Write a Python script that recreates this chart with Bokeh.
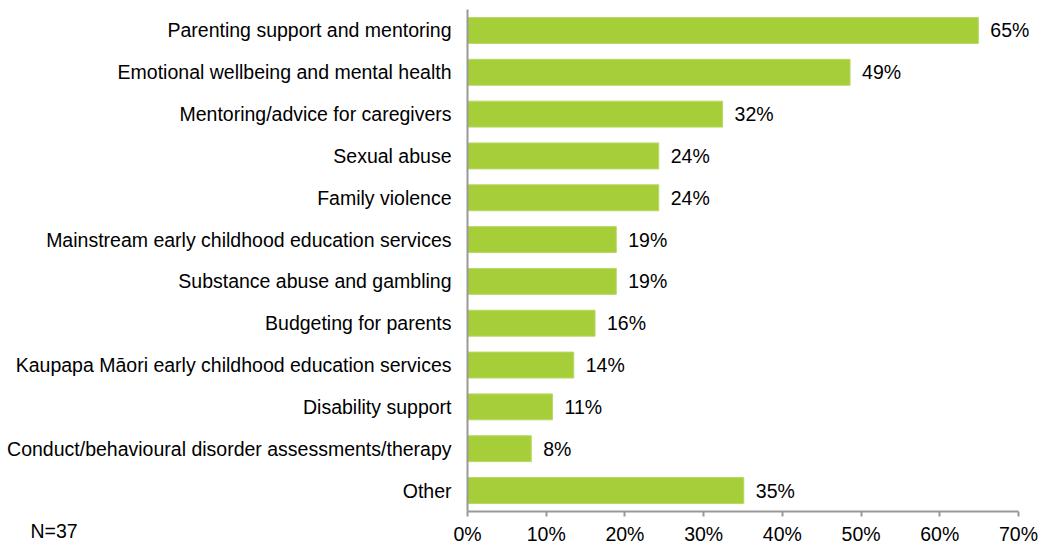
from bokeh.plotting import figure
from bokeh.models import ColumnDataSource, Range1d, NumeralTickFormatter, FixedTicker, Label, LabelSet
from bokeh.core.properties import value
from bokeh.embed import file_html
from bokeh.resources import INLINE

categories = [
    "Parenting support and mentoring",
    "Emotional wellbeing and mental health",
    "Mentoring/advice for caregivers",
    "Sexual abuse",
    "Family violence",
    "Mainstream early childhood education services",
    "Substance abuse and gambling",
    "Budgeting for parents",
    "Kaupapa Māori early childhood education services",
    "Disability support",
    "Conduct/behavioural disorder assessments/therapy",
    "Other",
]
values = [64.9, 48.6, 32.4, 24.3, 24.3, 18.9, 18.9, 16.2, 13.5, 10.8, 8.1, 35.1]
value_labels = ["65%", "49%", "32%", "24%", "24%", "19%", "19%", "16%", "14%", "11%", "8%", "35%"]
ticks = [0, 0.1, 0.2, 0.3, 0.4, 0.5, 0.6, 0.7]
note = "N=37"

FONT = "Liberation Sans"
FS = "19.5px"

n = len(categories)
pos = [n - 1 - i for i in range(n)]  # top category first

src = ColumnDataSource(dict(y=pos, val=[v / 100 for v in values], lab=value_labels))

p = figure(
    width=1042, height=544,
    x_range=Range1d(-0.5933, 0.7305),
    y_range=Range1d(-1.291, n - 1 + 0.717),
    output_backend="svg", toolbar_location=None,
    min_border_left=0, min_border_right=0, min_border_top=0, min_border_bottom=0,
)
p.hbar(y="y", right="val", height=0.62, source=src, fill_color="#a6ce39", line_color="#b8d866", line_width=1)

p.add_layout(LabelSet(x="val", y="y", text="lab", source=src, x_offset=12, text_baseline="middle",
                      text_font=value(FONT), text_font_size=value(FS), text_color="#000000"))

p.grid.visible = False
p.outline_line_color = None
p.background_fill_color = "white"
p.border_fill_color = "white"

xa = p.xaxis[0]
xa.fixed_location = -0.5
xa.ticker = FixedTicker(ticks=ticks)
xa.bounds = (0, 0.7)
xa.formatter = NumeralTickFormatter(format="0%")
xa.axis_line_color = "#999999"
xa.axis_line_width = 2
xa.major_tick_line_color = "#999999"
xa.major_tick_line_width = 2
xa.major_tick_out = 5
xa.major_tick_in = 0
xa.minor_tick_line_color = None
xa.major_label_text_font = FONT
xa.major_label_text_font_size = FS
xa.major_label_text_color = "#000000"
xa.major_label_standoff = 7

ya = p.yaxis[0]
ya.fixed_location = 0
ya.ticker = FixedTicker(ticks=pos, minor_ticks=[])
ya.major_label_overrides = {pv: c for pv, c in zip(pos, categories)}
ya.bounds = (-0.5, n - 0.5)
ya.axis_line_color = "#999999"
ya.axis_line_width = 2
ya.major_tick_line_color = None
ya.minor_tick_line_color = None
ya.major_label_text_font = FONT
ya.major_label_text_font_size = FS
ya.major_label_text_color = "#000000"
ya.major_label_standoff = 10

p.add_layout(Label(x=30, y=14, x_units="screen", y_units="screen", text=note, text_font=FONT,
                   text_baseline="middle", text_font_size=FS, text_color="#000000"))

open("out.html", "w").write(file_html(p, INLINE))
